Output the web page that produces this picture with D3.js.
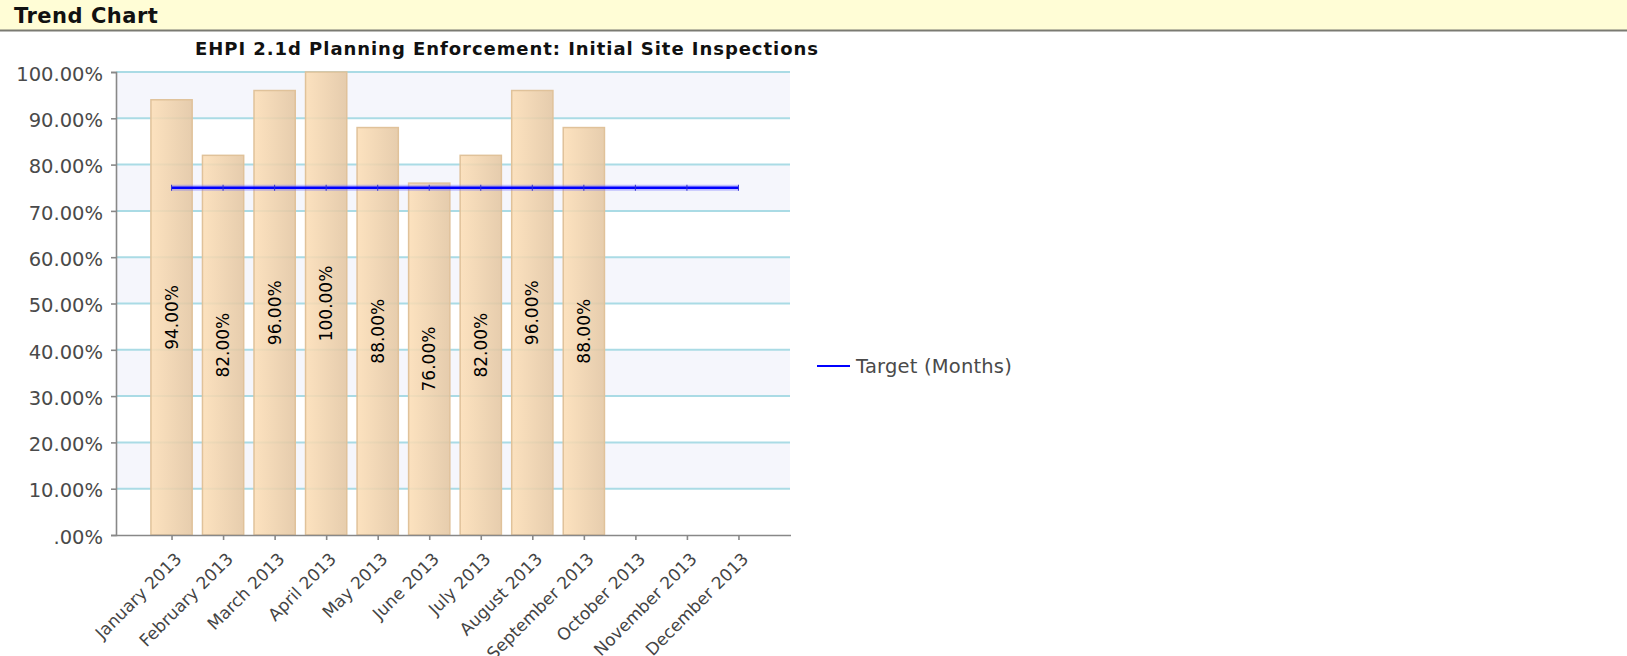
<!DOCTYPE html>
<html>
<head>
<meta charset="utf-8">
<script src="https://cdn.jsdelivr.net/npm/d3@7"></script>
<style>
  body { margin: 0; background: #fff; }
  #trend-chart { width: 1627px; height: 656px; }
  text { font-family: "DejaVu Sans", Verdana, sans-serif; }
</style>
</head>
<body>
<div id="trend-chart"></div>
<script>
// values
const months = [
  "January 2013", "February 2013", "March 2013", "April 2013",
  "May 2013", "June 2013", "July 2013", "August 2013",
  "September 2013", "October 2013", "November 2013", "December 2013"
];
const actualPct = [94, 82, 96, 100, 88, 76, 82, 96, 88, null, null, null];
const targetPct = [75, 75, 75, 75, 75, 75, 75, 75, 75, 75, 75, 75];
const yTickValues = [0, 10, 20, 30, 40, 50, 60, 70, 80, 90, 100];
const panelTitle = "Trend Chart";
const chartTitle = "EHPI 2.1d Planning Enforcement: Initial Site Inspections";
const legendLabel = "Target (Months)";

/**
 * Constructor for the trend chart
 */
function TrendChart() {
  var self = this;
  self.init();
}

/**
 * Sets up the svg and the scales
 */
TrendChart.prototype.init = function () {
  var self = this;
  self.width = 1627;
  self.height = 656;
  self.plot = { left: 116, right: 790, top: 72, bottom: 535 };

  self.svg = d3
    .select("#trend-chart")
    .append("svg")
    .attr("width", self.width)
    .attr("height", self.height);

  // categories sit a little right of the axis, one step of padding each side
  self.x = d3
    .scalePoint()
    .domain(months)
    .range([self.plot.left + 4, self.plot.right])
    .padding(1);

  self.y = d3
    .scaleLinear()
    .domain([0, 100])
    .range([self.plot.bottom, self.plot.top]);
};

/**
 * Label for the y axis ticks, the zero one has no leading digit
 */
TrendChart.prototype.pctLabel = function (d) {
  return d === 0 ? ".00%" : d.toFixed(2) + "%";
};

/**
 * Draws header, grid, bars, target line and legend
 */
TrendChart.prototype.update = function () {
  var self = this;
  const { svg, x, y, plot } = self;
  const step = x.step();
  const barWidth = step * 0.8;

  // header strip
  svg.append("rect")
    .attr("x", 0).attr("y", 0)
    .attr("width", self.width).attr("height", 30)
    .attr("fill", "#fffdd6");
  svg.append("line")
    .attr("x1", 0).attr("x2", self.width)
    .attr("y1", 30.5).attr("y2", 30.5)
    .attr("stroke", "#7a7a72").attr("stroke-width", 2);
  svg.append("text")
    .attr("x", 14).attr("y", 23)
    .attr("font-size", 21).attr("font-weight", "bold")
    .attr("letter-spacing", "0.5px")
    .attr("fill", "#111")
    .text(panelTitle);

  // chart title
  svg.append("text")
    .attr("x", 507).attr("y", 55)
    .attr("text-anchor", "middle")
    .attr("font-size", 18).attr("font-weight", "bold")
    .attr("letter-spacing", "0.95px")
    .attr("fill", "#111")
    .text(chartTitle);

  // gradient for the bars
  const grad = svg.append("defs").append("linearGradient")
    .attr("id", "barGrad")
    .attr("x1", "0%").attr("x2", "100%")
    .attr("y1", "0%").attr("y2", "0%");
  grad.append("stop").attr("offset", "0%").attr("stop-color", "#fcdeb6");
  grad.append("stop").attr("offset", "100%").attr("stop-color", "#e3c6a2");

  // alternating background bands
  const bands = yTickValues.slice(1).filter((d) => d % 20 === 0);
  svg.selectAll(".band")
    .data(bands)
    .enter()
    .append("rect")
    .attr("class", "band")
    .attr("x", plot.left)
    .attr("y", (d) => y(d))
    .attr("width", plot.right - plot.left)
    .attr("height", (d) => y(d - 10) - y(d))
    .attr("fill", "#f5f6fc");

  // grid lines
  svg.selectAll(".grid")
    .data(yTickValues.slice(1))
    .enter()
    .append("line")
    .attr("class", "grid")
    .attr("x1", plot.left).attr("x2", plot.right)
    .attr("y1", (d) => y(d)).attr("y2", (d) => y(d))
    .attr("stroke", "#aadbe5").attr("stroke-width", 2);

  // bars
  const barData = months
    .map((m, i) => ({ month: m, value: actualPct[i] }))
    .filter((d) => d.value !== null);

  svg.selectAll(".bar")
    .data(barData)
    .enter()
    .append("rect")
    .attr("class", "bar")
    .attr("x", (d) => x(d.month) - barWidth / 2)
    .attr("y", (d) => y(d.value))
    .attr("width", barWidth)
    .attr("height", (d) => y(0) - y(d.value))
    .attr("fill", "url(#barGrad)")
    .attr("fill-opacity", 0.88)
    .attr("stroke", "#e0c29a")
    .attr("stroke-width", 1.5);

  // bar value labels, written upwards in the middle of each bar
  svg.selectAll(".barLabel")
    .data(barData)
    .enter()
    .append("text")
    .attr("class", "barLabel")
    .attr("transform", (d) =>
      "translate(" + x(d.month) + "," + (y(d.value) + y(0)) / 2 + ") rotate(-90)")
    .attr("text-anchor", "middle")
    .attr("dy", "0.36em")
    .attr("font-size", 17)
    .attr("fill", "#000")
    .text((d) => d.value.toFixed(2) + "%");

  // y axis
  const yAxis = svg.append("g")
    .attr("transform", "translate(" + plot.left + ",0)")
    .call(d3.axisLeft(y).tickValues(yTickValues).tickSize(5).tickFormat(""));
  yAxis.selectAll("path, line").attr("stroke", "#888").attr("stroke-width", 1.6);

  svg.selectAll(".yLabel")
    .data(yTickValues)
    .enter()
    .append("text")
    .attr("class", "yLabel")
    .attr("x", 103)
    .attr("y", (d) => y(d))
    .attr("dy", "0.45em")
    .attr("text-anchor", "end")
    .attr("font-size", 19.5)
    .attr("fill", "#4a4a4a")
    .text((d) => self.pctLabel(d));

  // x axis
  const xAxis = svg.append("g")
    .attr("transform", "translate(0," + plot.bottom + ")")
    .call(d3.axisBottom(x).tickSize(5).tickFormat("").tickSizeOuter(0));
  xAxis.select(".domain")
    .attr("d", "M" + plot.left + ",0.5H" + (plot.right + 1));
  xAxis.selectAll("path, line").attr("stroke", "#888").attr("stroke-width", 1.6);

  svg.selectAll(".xLabel")
    .data(months)
    .enter()
    .append("text")
    .attr("class", "xLabel")
    .attr("transform", (d) => "translate(" + (x(d) + 11) + "," + (plot.bottom + 25) + ") rotate(-45)")
    .attr("text-anchor", "end")
    .attr("font-size", 17)
    .attr("fill", "#444")
    .text((d) => d);

  // target line with a soft halo
  const line = d3.line()
    .x((d, i) => x(months[i]))
    .y((d) => y(d));

  svg.append("path")
    .datum(targetPct)
    .attr("d", line)
    .attr("fill", "none")
    .attr("stroke", "#6f6fff")
    .attr("stroke-opacity", 0.4)
    .attr("stroke-width", 6);
  svg.append("path")
    .datum(targetPct)
    .attr("d", line)
    .attr("fill", "none")
    .attr("stroke", "#0000ff")
    .attr("stroke-width", 2.4);
  svg.selectAll(".targetMark")
    .data(targetPct)
    .enter()
    .append("line")
    .attr("class", "targetMark")
    .attr("x1", (d, i) => x(months[i])).attr("x2", (d, i) => x(months[i]))
    .attr("y1", (d) => y(d) - 3).attr("y2", (d) => y(d) + 3)
    .attr("stroke", "#3030d0").attr("stroke-width", 1);

  // legend
  svg.append("line")
    .attr("x1", 817).attr("x2", 850)
    .attr("y1", 366).attr("y2", 366)
    .attr("stroke", "#0000ff").attr("stroke-width", 2);
  svg.append("text")
    .attr("x", 856).attr("y", 373)
    .attr("font-size", 19.5)
    .attr("letter-spacing", "0.2px")
    .attr("fill", "#4a4a4a")
    .text(legendLabel);
};

var chart = new TrendChart();
chart.update();
</script>
</body>
</html>
